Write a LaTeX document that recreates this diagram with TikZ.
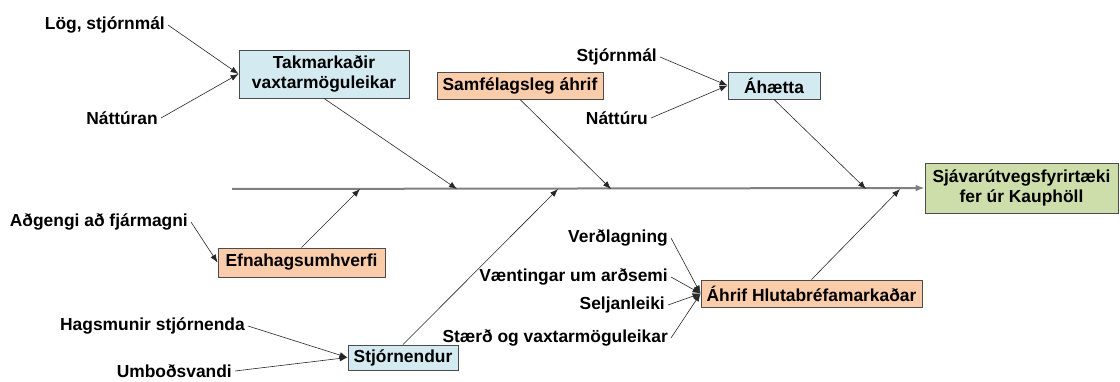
\documentclass[tikz,border=0pt]{standalone}
\usepackage{fontspec}
\setmainfont{Liberation Sans}
\usetikzlibrary{arrows.meta}
\definecolor{causeblue}{RGB}{210,234,240}
\definecolor{causeorange}{RGB}{250,204,170}
\definecolor{effectgreen}{RGB}{206,222,170}
\tikzset{
	cause/.style = {draw=black!70, line width=0.9pt, font=\bfseries\fontsize{17.4}{20.5}\selectfont, inner sep=0pt, align=center},
	fact/.style = {font=\bfseries\fontsize{17.4}{20.5}\selectfont, inner xsep=3pt, inner ysep=0pt, anchor=east},
	rib/.style = {draw=black!85, line width=0.6pt, -{Latex[length=8pt,width=6pt]}},
	spine/.style = {draw=black!50, line width=2pt, -{Latex[length=9pt,width=7pt]}}
}

\begin{document}
\begin{tikzpicture}[x=1pt, y=-1pt]
					\useasboundingbox (0,0) rectangle (1120,382);
					% ====== Spine ========
					\coordinate (tail) at (232,189);
					\coordinate (h1) at (360,189);
					\coordinate (h2) at (457,189);
					\coordinate (h3) at (558,189);
					\coordinate (h4) at (611,189);
					\coordinate (h5) at (866,189);
					\coordinate (h6) at (900,189);
					% ====== Boxes ========
					\node[cause, fill=effectgreen, minimum width=193, minimum height=50] (goal) at (1021.5,188) {Sjávarútvegsfyrirtæki\\fer úr Kauphöll};
					\node[cause, fill=causeblue, minimum width=170, minimum height=48] (limits) at (324,74) {Takmarkaðir\\vaxtarmöguleikar};
					\node[cause, fill=causeorange, minimum width=166, minimum height=27] (social) at (520,85.5) {Samfélagsleg áhrif};
					\node[cause, fill=causeblue, minimum width=92, minimum height=27] (risk) at (774,85.5) {Áhætta};
					\node[cause, fill=causeorange, minimum width=167, minimum height=29] (econ) at (301.5,262.5) {Efnahagsumhverfi};
					\node[cause, fill=causeblue, minimum width=110, minimum height=25] (mgmt) at (403,357.5) {Stjórnendur};
					\node[cause, fill=causeorange, minimum width=221, minimum height=27] (market) at (811.5,293.5) {Áhrif Hlutabréfamarkaðar};
					% ====== Factors ========
					\node[fact] (lawpol) at (168,25) {Lög, stjórnmál};
					\node[fact] (nature1) at (161,118) {Náttúran};
					\node[fact] (politics) at (660,57) {Stjórnmál};
					\node[fact] (nature2) at (651,118) {Náttúru};
					\node[fact] (capital) at (191,222) {Aðgengi að fjármagni};
					\node[fact] (mgrint) at (248,326) {Hagsmunir stjórnenda};
					\node[fact] (agency) at (235,371) {Umboðsvandi};
					\node[fact] (pricing) at (671,238) {Verðlagning};
					\node[fact] (expect) at (671,277) {Væntingar um arðsemi};
					\node[fact] (liquid) at (668,305) {Seljanleiki};
					\node[fact] (size) at (671,338) {Stærð og vaxtarmöguleikar};
					% ====== Arrows ========
					\draw[spine] (tail) -- (goal.west);
					\draw[rib] (limits.south) -- (h2);
					\draw[rib] (social.south) -- (h4);
					\draw[rib] (risk.south) -- (h5);
					\draw[rib] (econ.north) -- (h1);
					\draw[rib] (mgmt.north) -- (h3);
					\draw[rib] (market.north) -- (h6);
					\foreach \f/\c in {lawpol/limits, nature1/limits, politics/risk, nature2/risk, capital/econ, mgrint/mgmt, agency/mgmt, pricing/market, expect/market, liquid/market, size/market}
						{\draw[rib] (\f.east) -- (\c.west);}

				\end{tikzpicture}
\end{document}
